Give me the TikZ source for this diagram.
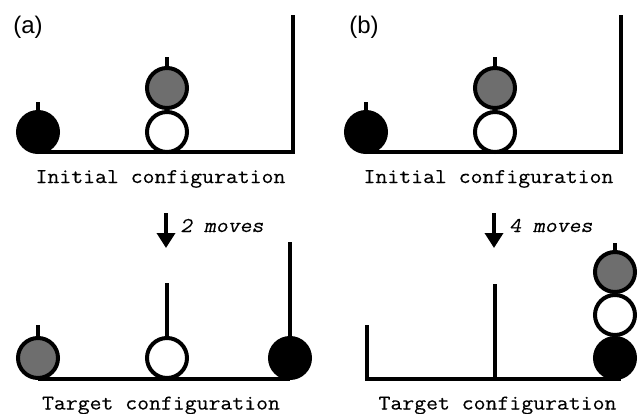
\documentclass[tikz,border=0pt]{standalone}
\usepackage{fontspec}
\setmainfont{Liberation Serif}
\setsansfont{Liberation Sans}
\newfontfamily\courlike[FakeStretch=1.1,FakeBold=0.3]{Latin Modern Mono}
\newfontfamily\courslant[FakeStretch=1.1,FakeBold=0.3,FakeSlant=0.2]{Latin Modern Mono}
\usetikzlibrary{arrows.meta}
\definecolor{ballgray}{RGB}{110,110,110}
\begin{document}
\begin{tikzpicture}[x=1pt,y=-1pt,
  rod/.style={line width=4pt},
  ball/.style={circle,draw=black,line width=4pt,minimum size=40pt,inner sep=0pt,outer sep=0pt},
  captext/.style={font=\courlike\fontsize{21}{25}\selectfont,anchor=base,inner sep=0pt},
  movetext/.style={font=\courslant\fontsize{21}{25}\selectfont,anchor=base west,inner sep=0pt},
  panel/.style={font=\sffamily\fontsize{24}{28}\selectfont,inner sep=0pt},
  movearrow/.style={line width=3.5pt,-{Triangle[width=18pt,length=15pt]}}
]
\useasboundingbox (0,0) rectangle (638,413);

% ---------- panel (a), initial ----------
\node[panel] (pa) at (28,27) {(a)};
\coordinate (aL) at (38,152);
\coordinate (aC) at (293,152);
\coordinate (aT) at (293,15);
\draw[rod] (aL) -- (aC) -- (aT);
\coordinate (a1s) at (38,102);
\coordinate (a2s) at (167,57);
\draw[rod] (a1s) -- (38,120);
\draw[rod] (a2s) -- (167,76);
\node[ball,fill=black] (a1) at (38,132) {};
\node[ball,fill=white] (a2) at (167,132) {};
\node[ball,fill=ballgray] (a3) at (167,88) {};
\node[captext] (ai) at (160.5,183) {Initial configuration};

% ---------- panel (b), initial ----------
\node[panel] (pb) at (364,27) {(b)};
\coordinate (bL) at (366,152);
\coordinate (bC) at (621,152);
\coordinate (bT) at (621,15);
\draw[rod] (bL) -- (bC) -- (bT);
\coordinate (b1s) at (366,102);
\coordinate (b2s) at (495,57);
\draw[rod] (b1s) -- (366,120);
\draw[rod] (b2s) -- (495,76);
\node[ball,fill=black] (b1) at (366,132) {};
\node[ball,fill=white] (b2) at (495,132) {};
\node[ball,fill=ballgray] (b3) at (495,88) {};
\node[captext] (bi) at (488.5,183) {Initial configuration};

% ---------- arrows ----------
\coordinate (aA1) at (166,213);
\coordinate (aA2) at (166,248);
\draw[movearrow] (aA1) -- (aA2);
\node[movetext] (am) at (180,232) {2 moves};
\coordinate (bA1) at (494,213);
\coordinate (bA2) at (494,248);
\draw[movearrow] (bA1) -- (bA2);
\node[movetext] (bm) at (509,232) {4 moves};

% ---------- panel (a), target ----------
\coordinate (cL) at (38,379);
\coordinate (cR) at (290,379);
\draw[rod] (cL) -- (cR);
\coordinate (c1s) at (38,325);
\coordinate (c2s) at (167,283);
\coordinate (c3s) at (290,242);
\draw[rod] (c1s) -- (38,350);
\draw[rod] (c2s) -- (167,350);
\draw[rod] (c3s) -- (290,350);
\node[ball,fill=ballgray] (c1) at (38,358) {};
\node[ball,fill=white] (c2) at (167,358) {};
\node[ball,fill=black] (c3) at (290,358) {};
\node[captext] (ct) at (161,409.5) {Target configuration};

% ---------- panel (b), target ----------
\coordinate (dT1) at (367,325);
\coordinate (dL) at (367,379);
\coordinate (dR) at (621,379);
\coordinate (dT2) at (495,284);
\coordinate (dB2) at (495,379);
\draw[rod] (dT1) -- (dL) -- (dR);
\draw[rod] (dT2) -- (dB2);
\coordinate (d3s) at (615,243);
\draw[rod] (d3s) -- (615,262);
\node[ball,fill=black] (d1) at (615,358) {};
\node[ball,fill=white] (d2) at (615,315) {};
\node[ball,fill=ballgray] (d3) at (615,272) {};
\node[captext] (dt) at (497.5,409.5) {Target configuration};
\end{tikzpicture}
\end{document}
